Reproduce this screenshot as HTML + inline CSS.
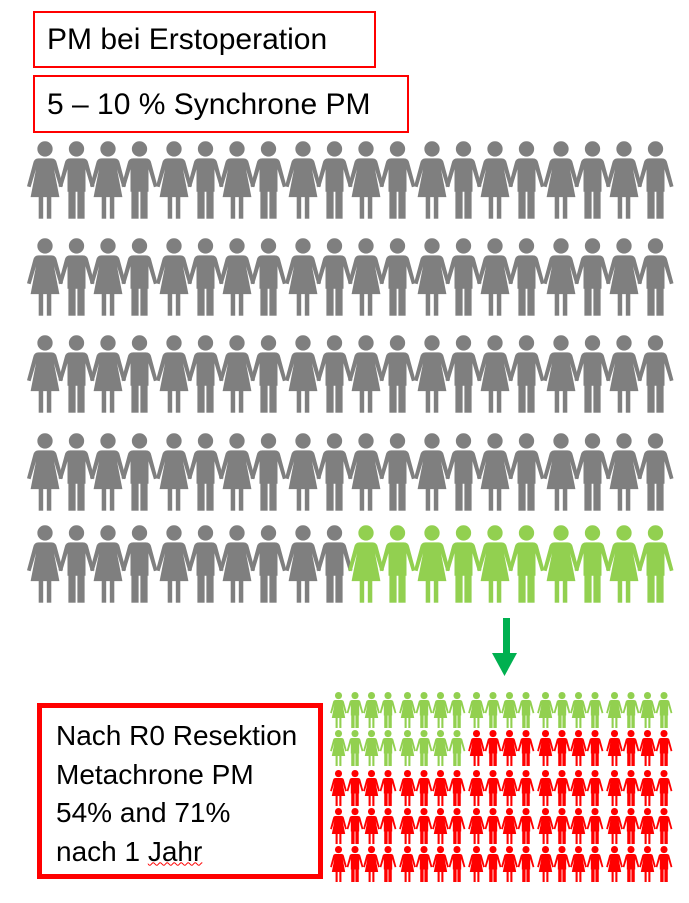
<!DOCTYPE html>
<html><head><meta charset="utf-8">
<style>
body{margin:0;width:689px;height:903px;background:#fff;position:relative;overflow:hidden;font-family:"Liberation Sans",sans-serif;}
.box{position:absolute;border:2px solid #f00;box-sizing:border-box;color:#000;}
.t{position:absolute;white-space:nowrap;}
</style></head><body>
<div class="box" style="left:33px;top:11px;width:343px;height:57px;"><span class="t" style="left:12px;top:10px;font-size:30px;">PM bei Erstoperation</span></div>
<div class="box" style="left:33px;top:75px;width:376px;height:58px;"><span class="t" style="left:12px;top:11px;font-size:30px;">5 – 10 % Synchrone PM</span></div>
<div class="box" style="left:37px;top:703px;width:286px;height:176px;border-width:5px;">
<div class="t" style="left:14px;top:9px;font-size:28px;line-height:38.5px;">Nach R0 Resektion<br>Metachrone PM<br>54% and 71%<br>nach 1 <span style="text-decoration:underline wavy #f00;text-decoration-thickness:1px;">Jahr</span></div>
</div>
<svg width="689" height="903" style="position:absolute;left:0;top:0">
<defs>
<symbol id="w" viewBox="0 0 40 86">
<circle cx="20" cy="8.5" r="8.5"/>
<path d="M13 19 H27 Q32 19 33 24 L40 50 L36 51 L30 31 L36 62 H4 L10 31 L4 51 L0 50 L7 24 Q8 19 13 19Z"/>
<rect x="13" y="61" width="5" height="25"/><rect x="22" y="61" width="5" height="25"/>
</symbol>
<symbol id="m" viewBox="0 0 40 86">
<circle cx="20" cy="8.5" r="8.5"/>
<path d="M13 19 H27 Q32 19 33 24 L40 50 L36 51 L30 31 V56 H10 V31 L4 51 L0 50 L7 24 Q8 19 13 19Z"/>
<rect x="11" y="55" width="8" height="31"/><rect x="21" y="55" width="8" height="31"/>
</symbol>
</defs>
<g id="big"></g>
<g id="small"></g>
<g fill="#00b050"><rect x="503" y="618" width="7" height="36"/><path d="M492 653 H517 L504.5 676Z"/></g>
</svg>
<script>
const bigTotal = [100];
const bigGreen = [10];
const smallTotal = [100];
const smallGreen = [28];
const NS='http://www.w3.org/2000/svg';
function grid(gid,total,green,x0,gstep,pstep,rowTops,w,h,base,hl,lastHl){
  const g=document.getElementById(gid);
  for(let i=0;i<total;i++){
    const r=Math.floor(i/20), c=i%20;
    const isHl = lastHl ? i>=total-green : i<green;
    const u=document.createElementNS(NS,'use');
    u.setAttribute('href',(c%2===0)?'#w':'#m');
    u.setAttribute('x',x0+Math.floor(c/4)*gstep+(c%4)*pstep);
    u.setAttribute('y',rowTops[r]);
    u.setAttribute('width',w);u.setAttribute('height',h);
    u.setAttribute('fill',isHl?hl:base);
    
    
    g.appendChild(u);
  }
}
grid('big',bigTotal[0],bigGreen[0],27,129,31.5,[137,234,331,429,521],36,86,'#7f7f7f','#92d050',true);
grid('small',smallTotal[0],smallGreen[0],329,69,16.5,[692,730,770,808,846],19,36,'#ff0000','#92d050',false);
</script>
</body></html>
